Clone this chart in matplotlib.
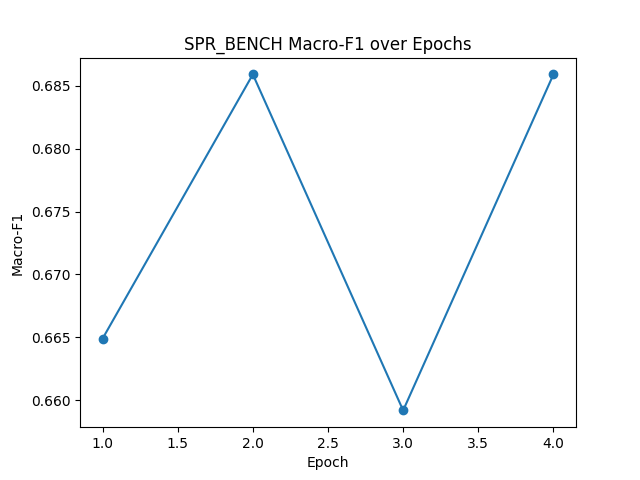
import matplotlib
matplotlib.use("Agg")
import matplotlib.pyplot as plt

epochs = [1, 2, 3, 4]
macro_f1 = [0.6649, 0.6859, 0.6592, 0.6859]

plt.figure(figsize=(6.4, 4.8), dpi=100)
plt.plot(epochs, macro_f1, marker="o")
plt.xlabel("Epoch")
plt.ylabel("Macro-F1")
plt.title("SPR_BENCH Macro-F1 over Epochs")
plt.savefig("out.png")
